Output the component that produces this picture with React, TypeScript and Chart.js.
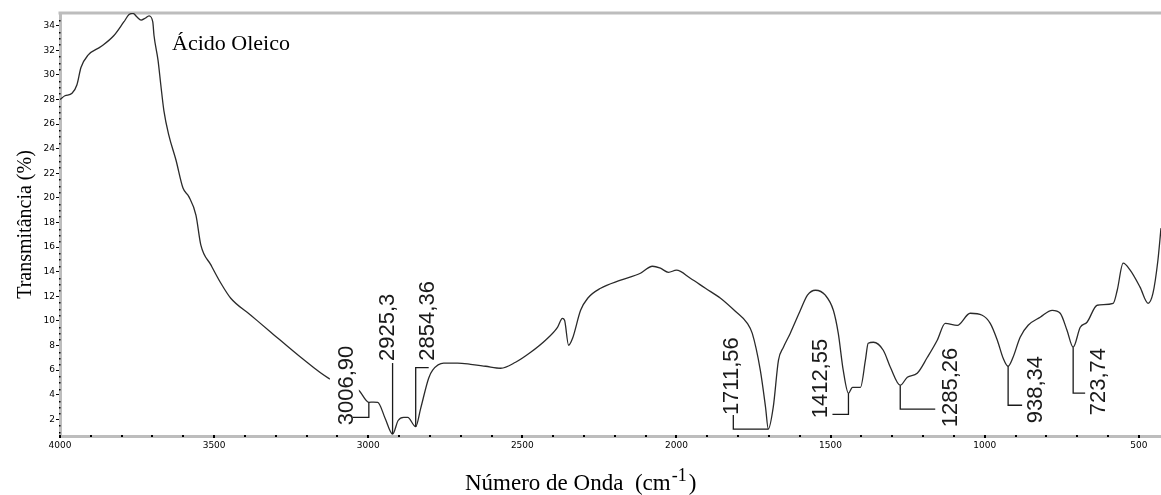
import { useEffect, useRef } from 'react';
import { Chart, registerables } from 'chart.js';

Chart.register(...registerables);

// ---------- DATA ----------
const wavenumbers = [
  4000, 3984, 3961, 3945, 3932, 3909, 3867, 3825, 3793, 3776, 3763, 3750, 3737, 3724, 3711,
  3699, 3695, 3682, 3673, 3663, 3647, 3624, 3601, 3582, 3559, 3543, 3510, 3478, 3446, 3381,
  3316, 3219, 3128, 3079, 3031, 2998, 2983, 2969, 2945, 2921, 2903, 2885, 2872, 2846, 2830,
  2804, 2791, 2755, 2710, 2668, 2619, 2570, 2522, 2473, 2425, 2386, 2370, 2363, 2350, 2337,
  2311, 2288, 2246, 2181, 2117, 2078, 2052, 2026, 2000, 1955, 1906, 1857, 1809, 1770, 1754,
  1728, 1711, 1702, 1686, 1669, 1653, 1631, 1598, 1575, 1549, 1517, 1491, 1475, 1459, 1442,
  1429, 1403, 1387, 1378, 1361, 1329, 1306, 1274, 1251, 1219, 1186, 1154, 1128, 1089, 1047,
  1008, 982, 959, 940, 924, 908, 885, 859, 820, 781, 755, 733, 713, 690, 668,
  635, 583, 570, 551, 528, 496, 470, 454, 438, 428,
];
const transmittance = [
  28.0, 28.3, 28.5, 29.2, 30.6, 31.6, 32.3, 33.2, 34.3, 34.9, 35.0, 34.7, 34.45, 34.6, 34.8,
  34.3, 33.2, 31.2, 29.2, 27.1, 25.1, 23.1, 20.8, 20.1, 18.6, 16.16, 14.53, 13.06, 11.84, 10.46,
  9.08, 7.04, 5.33, 4.85, 4.36, 3.38, 3.4, 3.38, 2.07, 0.8, 1.9, 2.16, 2.16, 1.4, 2.87,
  5.34, 5.99, 6.56, 6.56, 6.47, 6.31, 6.15, 6.64, 7.45, 8.43, 9.48, 10.21, 10.05, 8.02, 8.59,
  10.86, 11.84, 12.65, 13.31, 13.87, 14.44, 14.28, 13.95, 14.12, 13.47, 12.65, 11.84, 10.78, 9.8, 8.98,
  5.99, 2.98, 1.2, 2.98, 6.8, 7.86, 8.98, 10.86, 12.09, 12.49, 12.09, 10.86, 8.98, 5.99, 4.11,
  4.6, 4.6, 6.8, 8.18, 8.26, 7.61, 6.23, 4.77, 5.42, 5.74, 7.04, 8.43, 9.8, 9.64, 10.62,
  10.46, 9.8, 8.43, 6.96, 6.31, 7.04, 8.67, 9.64, 10.29, 10.86, 10.62, 9.24, 7.86, 9.48, 9.89,
  11.27, 11.43, 12.49, 14.69, 14.12, 12.74, 11.43, 12.25, 14.93, 17.54,
];

const xTickValues = [4000, 3500, 3000, 2500, 2000, 1500, 1000, 500];
const yTickValues = [2, 4, 6, 8, 10, 12, 14, 16, 18, 20, 22, 24, 26, 28, 30, 32, 34];

const peakLabels = ['3006,90', '2925,3', '2854,36', '1711,56', '1412,55', '1285,26', '938,34', '723,74'];
const peakWavenumbers = [2998, 2921, 2846, 1702, 1442, 1274, 924, 713];
const peakTransmittance = [3.38, 0.8, 1.4, 1.2, 4.11, 4.77, 6.31, 7.86];

const sampleName = 'Ácido Oleico';
const yTitle = 'Transmitância (%)';
const xTitleMain = 'Número de Onda  (cm';
const xTitleSup = '-1';
const xTitleEnd = ')';

// ---------- LAYOUT / STYLE ----------
const FRAME = '#bdbdbd';
const INK = '#1a1a1a';
// leader path offsets (px) relative to the peak anchor, text start (baseline) offset, optional mask
const leaderLayout: { path: number[][]; text: number[]; mask?: boolean }[] = [
  { path: [[0, 15], [-16, 15]], text: [-16, 23], mask: true },
  { path: [[0, -71]], text: [1, -73] },
  { path: [[0, -59], [13, -59]], text: [18, -66] },
  { path: [[-35, 0], [-35, -14]], text: [-30, -14] },
  { path: [[0, 21], [-16, 21]], text: [-21, 25] },
  { path: [[0, 24], [35, 24]], text: [57, 42] },
  { path: [[0, 39], [14, 39]], text: [34, 57] },
  { path: [[0, 46], [12, 46]], text: [32, 68] },
];

const decorPlugin = {
  id: 'decor',
  beforeDatasetsDraw(chart: any) {
    const { ctx, chartArea: ca } = chart;
    ctx.save();
    ctx.strokeStyle = FRAME;
    ctx.lineWidth = 3;
    ctx.beginPath();
    ctx.moveTo(ca.left - 1.5, ca.top);
    ctx.lineTo(ca.right, ca.top);
    ctx.stroke();
    ctx.restore();
  },
  afterDatasetsDraw(chart: any) {
    const { ctx, chartArea: ca, scales } = chart;
    const xs = scales.x;
    const ys = scales.y;
    ctx.save();
    // minor dots on axes
    ctx.fillStyle = '#000';
    for (let v = 4000; v >= 500; v -= 100) {
      const px = Math.round(xs.getPixelForValue(v));
      const major = v % 500 === 0;
      ctx.fillRect(px - 1, Math.round(ca.bottom) - 1, 2, major ? 3 : 2);
    }
    for (let v = 1; v <= 34.6; v += 0.5) {
      if (Math.abs(v % 2) < 1e-6) continue;
      const py = Math.round(ys.getPixelForValue(v));
      ctx.fillRect(Math.round(ca.left) - 1, py, 1.5, 1.5);
    }

    // peak annotations
    ctx.font = '22px "Liberation Sans", Arial, sans-serif';
    ctx.textBaseline = 'alphabetic';
    ctx.textAlign = 'left';
    peakLabels.forEach((label, i) => {
      const ax = xs.getPixelForValue(peakWavenumbers[i]);
      const ay = ys.getPixelForValue(peakTransmittance[i]);
      const lay = leaderLayout[i];
      const tx = ax + lay.text[0];
      const ty = ay + lay.text[1];
      const w = ctx.measureText(label).width;
      ctx.save();
      ctx.translate(tx, ty);
      ctx.rotate(-Math.PI / 2);
      if (lay.mask) {
        ctx.fillStyle = '#fff';
        ctx.fillRect(-4, -23, w + 8, 29);
      }
      ctx.fillStyle = INK;
      ctx.fillText(label, 0, 0);
      ctx.restore();
      ctx.strokeStyle = INK;
      ctx.lineWidth = 1.3;
      ctx.beginPath();
      ctx.moveTo(ax, ay);
      lay.path.forEach(([dx, dy]) => ctx.lineTo(ax + dx, ay + dy));
      ctx.stroke();
    });

    // sample name
    ctx.fillStyle = '#000';
    ctx.font = '22px "Liberation Serif", "Times New Roman", serif';
    ctx.fillText(sampleName, ca.left + 112, ca.top + 37);

    // y title
    ctx.save();
    ctx.translate(31, (ca.top + ca.bottom) / 2);
    ctx.rotate(-Math.PI / 2);
    ctx.textAlign = 'center';
    ctx.font = '20px "Liberation Serif", "Times New Roman", serif';
    ctx.fillText(yTitle, 0, 0);
    ctx.restore();

    // x title with superscript
    let x0 = 465;
    const yb = 490;
    ctx.font = '23px "Liberation Serif", "Times New Roman", serif';
    ctx.fillText(xTitleMain, x0, yb);
    x0 += ctx.measureText(xTitleMain).width + 1;
    ctx.font = '18px "Liberation Serif", "Times New Roman", serif';
    ctx.fillText(xTitleSup, x0, yb - 9);
    x0 += ctx.measureText(xTitleSup).width + 2;
    ctx.font = '23px "Liberation Serif", "Times New Roman", serif';
    ctx.fillText(xTitleEnd, x0, yb);
    ctx.restore();
  },
};

export default function App() {
  const ref = useRef<HTMLCanvasElement>(null);
  useEffect(() => {
    if (!ref.current) return;
    const points = wavenumbers.map((w, i) => ({ x: w, y: transmittance[i] }));
    const tickFont = { family: '"DejaVu Sans", sans-serif', size: 9 };
    const chart = new Chart(ref.current, {
      type: 'line',
      data: {
        datasets: [
          {
            data: points,
            borderColor: '#2a2a2a',
            borderWidth: 1.3,
            pointRadius: 0,
            fill: false,
            cubicInterpolationMode: 'monotone',
          },
        ],
      },
      options: {
        animation: false,
        responsive: true,
        maintainAspectRatio: false,
        parsing: false as any,
        layout: { padding: { top: 13, right: 0, left: 0, bottom: 0 } },
        plugins: { legend: { display: false }, tooltip: { enabled: false } },
        scales: {
          x: {
            type: 'linear',
            reverse: true,
            min: 428,
            max: 4000,
            afterBuildTicks: (s: any) => {
              s.ticks = xTickValues.map((v) => ({ value: v }));
            },
            afterFit: (s: any) => {
              s.height = 59;
            },
            grid: { display: false, drawTicks: false },
            border: { display: true, color: FRAME, width: 3 },
            ticks: {
              padding: 4,
              font: tickFont,
              color: '#000',
              maxRotation: 0,
              autoSkip: false,
              callback: (v: any) => String(v),
            },
          },
          y: {
            type: 'linear',
            min: 0.64,
            max: 35.03,
            afterBuildTicks: (s: any) => {
              s.ticks = yTickValues.map((v) => ({ value: v }));
            },
            afterFit: (s: any) => {
              s.width = 60;
            },
            grid: { drawOnChartArea: false, drawTicks: true, tickLength: 4, color: '#000', lineWidth: 1 },
            border: { display: true, color: FRAME, width: 3 },
            ticks: {
              padding: 1,
              font: tickFont,
              color: '#000',
              autoSkip: false,
              callback: (v: any) => String(v),
            },
          },
        },
      },
      plugins: [decorPlugin],
    } as any);
    return () => chart.destroy();
  }, []);
  return (
    <div style={{ position: 'absolute', left: 0, top: 0, width: 1161, height: 495, background: '#fff' }}>
      <canvas ref={ref} />
    </div>
  );
}
